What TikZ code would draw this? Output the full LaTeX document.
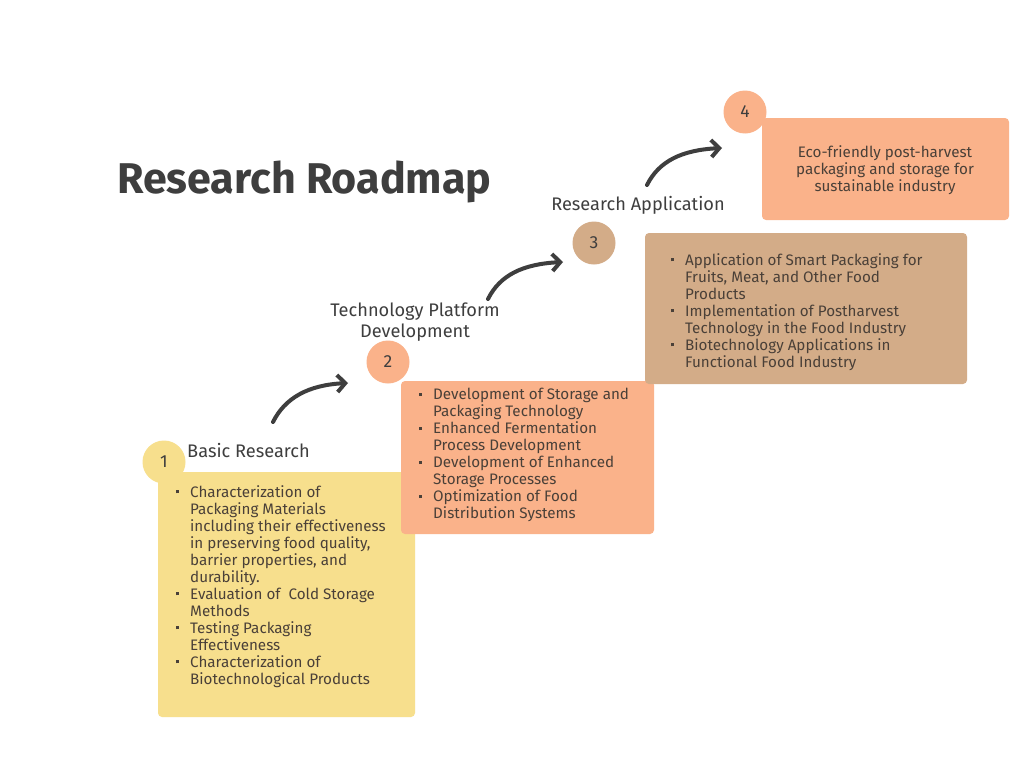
\documentclass[tikz,border=0pt]{standalone}
\usepackage{fontspec}
\setmainfont{Fira Sans}
\usetikzlibrary{arrows.meta,calc}
\definecolor{cyellow}{HTML}{F7DF8D}
\definecolor{csalmon}{HTML}{FAB28A}
\definecolor{ctan}{HTML}{D3AC88}
\definecolor{ctext}{HTML}{3E3E3E}
\definecolor{cbody}{HTML}{4A4038}
\newcommand{\bi}{\makebox[15pt][l]{\hspace*{1pt}\raisebox{3.6pt}{\rule{3.2pt}{3.2pt}}}}
\newcommand{\bc}{\hspace*{15pt}}
\begin{document}
\begin{tikzpicture}[x=1pt,y=-1pt,
  box/.style={fill=#1, rounded corners=4pt, draw=none},
  num/.style={circle, fill=#1, minimum size=43pt, inner sep=0pt, text=ctext, font=\fontsize{17.5}{17}\selectfont},
  label/.style={text=ctext, font=\fontsize{18.2}{21}\selectfont, inner sep=0pt, align=center},
  body/.style={text=cbody, font=\fontsize{15.2}{17}\selectfont, inner sep=0pt, align=left, anchor=north west},
  curvearrow/.style={draw=ctext, line width=4pt, line cap=round, -{Straight Barb[length=8pt,width=17pt,line width=4pt]}}
]
\useasboundingbox (0,0) rectangle (1024,768);
\fill[white] (0,0) rectangle (1024,768);

% title
\node[text=ctext, font=\fontsize{43}{43}\selectfont\bfseries, anchor=west, inner sep=0pt] (title) at (117,182) {Research Roadmap};

% boxes
\path[box=cyellow] (158,472) rectangle (415,717);
\path[box=csalmon] (401,381) rectangle (654,534);
\path[box=ctan] (645,233) rectangle (967,384);
\path[box=csalmon] (762,118) rectangle (1009,220);

% circles
\node[num=cyellow] (n1) at (164,462) {1};
\node[num=csalmon] (n2) at (388,362) {2};
\node[num=ctan] (n3) at (594,243) {3};
\node[num=csalmon] (n4) at (745,112) {4};

% labels
\node[label, anchor=west] (l1) at (187,451) {Basic Research};
\node[label] (l2) at (415,322) {Technology Platform\\Development};
\node[label] (l3) at (638,205) {Research Application};

% body texts
\node[body] (t1) at (175,485) {\bi Characterization of\\ \bc Packaging Materials\\ \bc including their effectiveness\\ \bc in preserving food quality,\\ \bc barrier properties, and\\ \bc durability.\\ \bi Evaluation of\ \ Cold Storage\\ \bc Methods\\ \bi Testing Packaging\\ \bc Effectiveness\\ \bi Characterization of\\ \bc Biotechnological Products};
\node[body] (t2) at (418,388) {\bi Development of Storage and\\ \bc Packaging Technology\\ \bi Enhanced Fermentation\\ \bc Process Development\\ \bi Development of Enhanced\\ \bc Storage Processes\\ \bi Optimization of Food\\ \bc Distribution Systems};
\node[body] (t3) at (670,253) {\bi Application of Smart Packaging for\\ \bc Fruits, Meat, and Other Food\\ \bc Products\\ \bi Implementation of Postharvest\\ \bc Technology in the Food Industry\\ \bi Biotechnology Applications in\\ \bc Functional Food Industry};
\node[text=cbody, font=\fontsize{15.2}{17}\selectfont, inner sep=0pt, align=center] (t4) at (885,170) {Eco-friendly post-harvest\\packaging and storage for\\sustainable industry};

% arrows
\coordinate (a1s) at (273,422); \coordinate (a1e) at (348,383);
\coordinate (a2s) at (488,299); \coordinate (a2e) at (563,262);
\coordinate (a3s) at (647,185); \coordinate (a3e) at (722,148);
\draw[curvearrow] (a1s) .. controls ($(a1s)+(12,-24)$) and ($(a1e)+(-40,2)$) .. (a1e);
\draw[curvearrow] (a2s) .. controls ($(a2s)+(12,-24)$) and ($(a2e)+(-40,2)$) .. (a2e);
\draw[curvearrow] (a3s) .. controls ($(a3s)+(12,-24)$) and ($(a3e)+(-40,2)$) .. (a3e);
\end{tikzpicture}
\end{document}
